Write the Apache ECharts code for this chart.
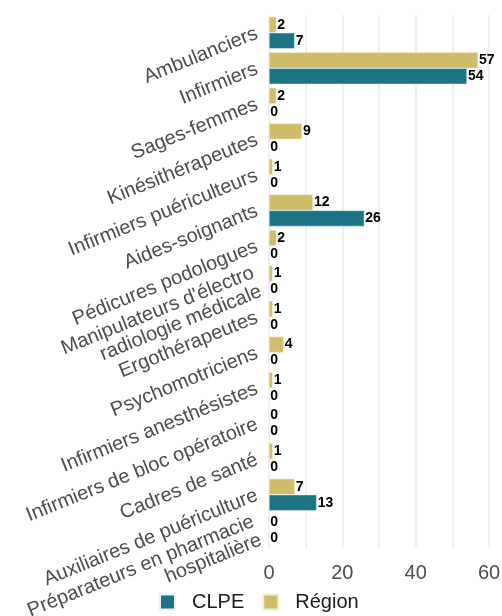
<!DOCTYPE html>
<html>
<head>
<meta charset="utf-8">
<script src="https://cdn.jsdelivr.net/npm/echarts@6/dist/echarts.min.js"></script>
<style>
  html, body { margin: 0; padding: 0; background: #fff; }
  #chart { width: 502px; height: 616px; }
</style>
</head>
<body>
<div id="chart"></div>
<script>
// Professions, listed top to bottom
const categories = [
  "Ambulanciers",
  "Infirmiers",
  "Sages-femmes",
  "Kinésithérapeutes",
  "Infirmiers puériculteurs",
  "Aides-soignants",
  "Pédicures podologues",
  "Manipulateurs d'électro\nradiologie médicale",
  "Ergothérapeutes",
  "Psychomotriciens",
  "Infirmiers anesthésistes",
  "Infirmiers de bloc opératoire",
  "Cadres de santé",
  "Auxiliaires de puériculture",
  "Préparateurs en pharmacie\nhospitalière"
];
const clpeValues   = [7, 54, 0, 0, 0, 26, 0, 0, 0, 0, 0, 0, 0, 13, 0];
const regionValues = [2, 57, 2, 9, 1, 12, 2, 1, 1, 4, 1, 0, 1, 7, 0];
const xTicks = [0, 20, 40, 60];

const FONT = "Liberation Sans, Arial, sans-serif";

const valueLabel = {
  show: true,
  position: "right",
  distance: 1,
  color: "#000",
  fontWeight: "bold",
  fontSize: 14,
  fontFamily: FONT
};

const chart = echarts.init(document.getElementById("chart"), null, { renderer: "canvas" });
chart.setOption({
  animation: false,
  textStyle: { fontFamily: FONT },
  grid: {
    left: 269, right: 13, top: 15, bottom: 68,
    containLabel: false,
    outerBoundsMode: "none"
  },
  legend: {
    bottom: 4,
    left: 159,
    padding: 0,
    data: ["CLPE", "Région"],
    icon: "rect",
    itemWidth: 15,
    itemHeight: 15,
    itemGap: 18,
    textStyle: { fontSize: 20, color: "#1a1a1a", fontFamily: FONT, padding: [0, 0, 0, 12] }
  },
  xAxis: {
    type: "value",
    min: 0,
    max: 60,
    interval: 10,
    axisLine: { show: false },
    axisTick: { show: false },
    splitLine: { show: true, lineStyle: { color: "#ebebeb", width: 1.5 } },
    axisLabel: {
      fontSize: 20,
      color: "#4d4d4d",
      margin: 15,
      formatter: v => (xTicks.indexOf(v) >= 0 ? String(v) : "")
    }
  },
  yAxis: {
    type: "category",
    data: categories,
    inverse: true,
    axisLine: { show: false },
    axisTick: { show: false },
    axisLabel: {
      rotate: 22,
      fontSize: 20,
      color: "#4d4d4d",
      margin: 12,
      lineHeight: 20,
      align: "right"
    }
  },
  series: [
    {
      name: "Région",
      type: "bar",
      data: regionValues,
      barGap: "0%",
      barCategoryGap: "10%",
      itemStyle: { color: "#cfbd6c", borderColor: "#f3eed8", borderWidth: 0.5 },
      label: valueLabel
    },
    {
      name: "CLPE",
      type: "bar",
      data: clpeValues,
      barGap: "0%",
      barCategoryGap: "10%",
      itemStyle: { color: "#1b7385", borderColor: "#e8f0f2", borderWidth: 0.5 },
      label: valueLabel
    }
  ]
});
</script>
</body>
</html>
